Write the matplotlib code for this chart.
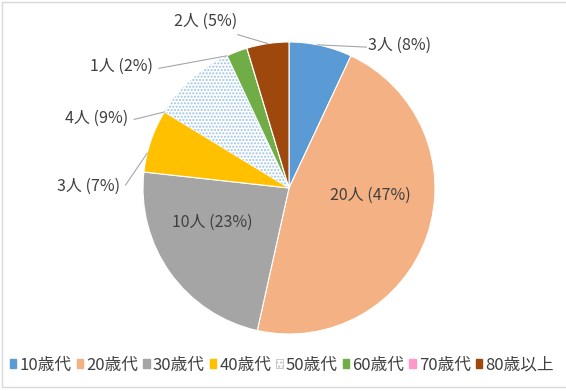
import matplotlib
matplotlib.use("Agg")
import matplotlib.pyplot as plt
from matplotlib.patches import Patch, Rectangle
import numpy as np

plt.rcParams['font.family'] = ['Noto Sans CJK JP', 'DejaVu Sans']
plt.rcParams['hatch.linewidth'] = 1.0

categories = ['10歳代', '20歳代', '30歳代', '40歳代', '50歳代', '60歳代', '70歳代', '80歳以上']
counts = [3, 20, 10, 3, 4, 1, 0, 2]
labels = ['3人 (8%)', '20人 (47%)', '10人 (23%)', '3人 (7%)', '4人 (9%)', '1人 (2%)', '', '2人 (5%)']
colors = ['#5B9BD5', '#F4B183', '#A5A5A5', '#FFC000', '#FFFFFF', '#70AD47', '#FF99CC', '#9E480E']

# layout for labels: (x, y, ha, line_start or None, anchor fraction within wedge)
label_layout = [
    (0.54, 0.975, 'left', (0.53, 0.965), 0.45),
    (0.555, -0.048, 'center', None, None),
    (-0.527, -0.233, 'center', None, None),
    (-1.16, 0.014, 'right', (-1.12, 0.02), 0.3),
    (-1.10, 0.48, 'right', (-1.06, 0.47), 0.0),
    (-0.93, 0.83, 'right', (-0.89, 0.82), 0.0),
    None,
    (-0.57, 1.14, 'center', (-0.35, 1.05), 0.5),
]

W, H = 566, 391
fig = plt.figure(figsize=(W / 100, H / 100), dpi=100)
cx, cy, R = 289, 188, 146
ax = fig.add_axes([(cx - R) / W, (H - cy - R) / H, 2 * R / W, 2 * R / H])

wedges, _ = ax.pie(counts, colors=colors, startangle=90, counterclock=False,
                   radius=1.0, wedgeprops=dict(edgecolor='white', linewidth=0.8))
ax.set_xlim(-1, 1)
ax.set_ylim(-1, 1)
ax.set_aspect('equal')
ax.axis('off')

# dotted pattern for 50's
w50 = wedges[4]
w50.set_edgecolor('#9DC3E6')
w50.set_hatch('.....')
w50.set_linewidth(0)

text_color = '#404040'
fs = 11.5
for w, lab, lay in zip(wedges, labels, label_layout):
    if lay is None or lab == '':
        continue
    x, y, ha, ls, frac = lay
    ax.text(x, y, lab, ha=ha, va='center', fontsize=fs, color=text_color, clip_on=False)
    if ls is not None:
        th1, th2 = w.theta1, w.theta2
        ang = np.deg2rad(th1 + (th2 - th1) * (1 - frac))
        pt = (np.cos(ang), np.sin(ang))
        ax.plot([ls[0], pt[0]], [ls[1], pt[1]], color='#A6A6A6', lw=0.8, clip_on=False)

handles = []
for c, name in zip(colors, categories):
    if name == '50歳代':
        handles.append(Patch(facecolor='white', edgecolor='#BFBFBF', hatch='....', linewidth=0.6, label=name))
    else:
        handles.append(Patch(facecolor=c, edgecolor=c, label=name))
fig.legend(handles=handles, loc='center left', bbox_to_anchor=(10 / W, 26 / H), ncol=8,
           frameon=False, fontsize=12, handlelength=0.38, handleheight=0.38, handletextpad=0.2,
           columnspacing=0.3, labelcolor=text_color, borderaxespad=0, borderpad=0)

fig.patches.append(Rectangle((2 / W, 4 / H), 1.2, (387 - 2) / H, transform=fig.transFigure,
                             fill=False, edgecolor='#D9D9D9', linewidth=1.0))

fig.savefig('out.png', dpi=100, facecolor='white')
